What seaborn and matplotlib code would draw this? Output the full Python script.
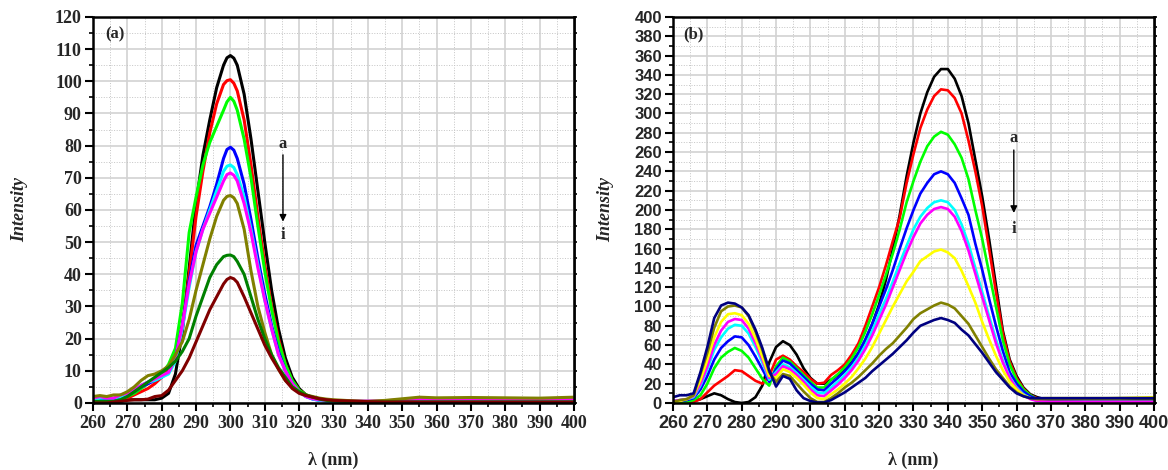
import matplotlib
matplotlib.use("Agg")
import matplotlib.pyplot as plt
from matplotlib.ticker import MultipleLocator
import numpy as np
import pandas as pd
import seaborn as sns

# ---------------- data: panel (a) ----------------
wl_a = [260, 262, 264, 266, 268, 270, 272, 274, 276, 278, 280, 282, 284, 286, 288,
        290, 292, 294, 296, 298, 299, 300, 301, 302, 304, 306, 308, 310, 312, 314, 316, 318,
        320, 322, 324, 326, 328, 330, 335, 340, 345, 350, 355, 360, 370, 380, 390, 400]

a_a = [0.5, 0.3, 0.3, 0.3, 0.5, 1, 1, 1, 1, 1, 1.5, 3, 9, 22, 42,
       62, 77, 88, 98, 105, 107.3, 108, 107.2, 105, 96, 82, 66, 50, 35, 23, 14, 8,
       4.5, 2.5, 1.5, 1, 0.8, 0.6, 0.5, 0.3, 0.3, 0.3, 0.3, 0.3, 0.3, 0.3, 0.3, 0.3]
a_b = [0.3, 0.3, 0.3, 0.5, 1, 1.5, 2.5, 3.5, 4.5, 6, 8, 11, 16, 24, 40,
       58, 72, 84, 93, 99, 100.2, 100.5, 99.4, 97, 88, 74, 58, 43, 30, 20, 12, 7,
       4, 2.5, 1.5, 1, 0.8, 0.6, 0.4, 0.3, 0.3, 0.3, 0.3, 0.3, 0.3, 0.3, 0.3, 0.3]
a_c = [0, 0, 0.3, 0.5, 1, 2, 3, 4.5, 6, 7.5, 9, 12, 17, 31, 53,
       64, 74, 81, 86, 91, 93.6, 95, 93.8, 91, 82, 70, 55, 41, 29, 19, 12, 7,
       4, 2.5, 1.5, 1, 0.7, 0.5, 0.3, 0.3, 0.3, 0.3, 0.3, 0.3, 0.3, 0.3, 0.3, 0.3]
a_d = [0.5, 0.8, 1, 1.3, 2, 2.5, 3.5, 5, 6, 7, 8, 9.5, 14, 24, 38,
       49, 55, 61, 68, 76, 78.8, 79.5, 78.6, 76, 68, 57, 45, 34, 24, 16, 10, 6,
       3.5, 2, 1.2, 0.8, 0.6, 0.5, 0.4, 0.3, 0.3, 0.5, 0.5, 0.5, 0.5, 0.5, 0.5, 0.5]
a_e = [1, 1.5, 1.5, 1.5, 2, 3, 4, 5.5, 6.5, 7, 8, 9, 13, 23, 36,
       47, 54, 60, 66, 72, 73.6, 74, 73.2, 71, 64, 54, 43, 32, 23, 15, 10, 6,
       3.5, 2, 1.2, 0.8, 0.6, 0.5, 0.5, 0.5, 0.5, 0.5, 0.5, 0.5, 0.5, 0.5, 0.5, 0.5]
a_f = [1.5, 2, 1.5, 1.5, 2.5, 3, 4, 5.5, 6.5, 7.5, 8.5, 9.5, 14, 24, 37,
       47, 54, 59, 64, 69, 71, 71.5, 70.8, 69, 62, 53, 42, 32, 23, 15, 10, 6,
       3.5, 2, 1.3, 1, 0.8, 0.7, 0.6, 0.6, 0.7, 1, 1.3, 1.3, 1.3, 1.3, 1.3, 1.3]
a_g = [2, 2.3, 2, 2.5, 2.5, 3.5, 5, 7, 8.5, 9, 10, 11.5, 15, 19, 26,
       35, 43, 51, 58, 63, 64.2, 64.5, 63.8, 62, 54, 41, 30, 22, 15, 10.5, 7, 5,
       3.5, 2.5, 2, 1.5, 1.2, 1, 0.7, 0.5, 0.8, 1.3, 1.8, 1.6, 1.7, 1.6, 1.5, 1.8]
a_h = [0.5, 0.5, 0.5, 0.5, 1, 2, 3.5, 5, 6.5, 8, 9.5, 11, 13, 16, 20,
       27, 33, 39, 43, 45.5, 45.9, 46, 45.5, 44, 40, 33, 26, 20, 15, 11, 8, 5,
       3.5, 2.5, 1.8, 1.2, 0.8, 0.6, 0.4, 0.3, 0.3, 0.3, 0.3, 0.3, 0.3, 0.3, 0.3, 0.3]
a_i = [0, 0, 0, 0.3, 0.5, 0.8, 1, 1, 1.2, 2, 2.3, 4, 7, 10, 14,
       19, 24, 29, 33, 37, 38.4, 39, 38.6, 37.5, 33, 28, 23, 18, 14, 10.5, 7, 4.5,
       3, 2.3, 1.8, 1.3, 1, 0.8, 0.6, 0.4, 0.3, 0.3, 0.3, 0.3, 0.3, 0.3, 0.3, 0.3]

curves_a = [a_a, a_b, a_c, a_d, a_e, a_f, a_g, a_h, a_i]
colors_a = ["#000000", "#ff0000", "#00ff00", "#0000ff", "#00ffff",
            "#ff00ff", "#808000", "#008000", "#800000"]

# ---------------- data: panel (b) ----------------
wl_b = [260, 262, 264, 266, 268, 270, 272, 274, 276, 278, 280, 282, 284, 286, 288,
        290, 292, 294, 296, 298, 300, 302, 304, 306, 308, 310, 312, 314, 316, 318,
        320, 322, 324, 326, 328, 330, 332, 334, 336, 338, 340, 342, 344, 346, 348,
        350, 352, 354, 356, 358, 360, 362, 364, 366, 368, 370, 380, 390, 400]

b_a = [0, 0, 1, 2, 4, 7, 10, 8, 4, 1, 0, 1, 6, 18, 42,
       58, 64, 60, 50, 36, 26, 20, 20, 24, 29, 34, 42, 52, 65, 82,
       102, 128, 160, 195, 235, 270, 300, 322, 338, 346, 346, 336, 318, 290, 252,
       214, 170, 122, 75, 45, 28, 16, 9, 6, 4, 3.5, 3, 3, 3]
b_b = [0, 0, 0, 1, 4, 11, 18, 23, 28, 34, 33, 28, 23, 20, 28,
       45, 49, 45, 38, 32, 25, 20, 21, 29, 34, 40, 50, 62, 80, 100,
       120, 143, 168, 192, 228, 258, 285, 304, 318, 325, 324, 316, 300, 272, 240,
       204, 160, 115, 72, 43, 26, 15, 8, 5, 3, 2.5, 2, 2, 2]
b_c = [0, 0, 1, 3, 8, 20, 36, 47, 53, 57, 54, 47, 36, 25, 18,
       38, 47, 43, 36, 29, 22, 16, 16, 24, 30, 37, 46, 58, 74, 92,
       112, 133, 155, 180, 208, 230, 250, 266, 276, 281, 278, 268, 254, 232, 200,
       170, 135, 100, 65, 40, 24, 14, 8, 4, 3, 2, 2, 2, 2]
b_d = [2, 2, 3, 5, 14, 28, 45, 57, 64, 69, 68, 60, 48, 35, 22,
       35, 44, 41, 34, 27, 20, 14, 13, 20, 26, 33, 41, 52, 66, 82,
       100, 118, 138, 160, 181, 200, 217, 228, 237, 240, 237, 228, 212, 195, 165,
       138, 108, 80, 54, 32, 20, 12, 7, 4, 2, 1.5, 1, 1, 1]
b_e = [2, 3, 4, 6, 18, 35, 55, 68, 77, 81, 80, 72, 58, 42, 24,
       32, 40, 37, 31, 24, 17, 11, 10, 16, 22, 29, 37, 47, 60, 75,
       92, 108, 126, 145, 163, 180, 193, 202, 208, 210, 208, 200, 185, 165, 140,
       115, 90, 66, 44, 27, 16, 9, 5, 2, 1, 0.5, 0.5, 0.5, 0.5]
b_f = [2, 3, 4, 7, 20, 38, 60, 75, 84, 87, 86, 77, 62, 45, 26,
       30, 38, 35, 29, 22, 14, 8, 7, 13, 19, 26, 34, 44, 56, 70,
       86, 102, 120, 138, 156, 172, 186, 195, 201, 203, 201, 193, 178, 158, 134,
       110, 86, 62, 42, 26, 15, 8, 4, 2, 1.5, 1.2, 1.2, 1.2, 1.2]
b_g = [1, 2, 4, 8, 24, 45, 68, 84, 92, 93, 91, 82, 67, 48, 28,
       26, 35, 32, 26, 19, 11, 5, 4, 9, 14, 20, 27, 36, 46, 58,
       72, 86, 100, 113, 126, 136, 147, 152, 157, 159, 156, 150, 137, 121, 104,
       84, 66, 49, 34, 22, 14, 8, 5, 4, 5, 5, 5, 5, 6]
b_h = [1, 3, 4, 8, 30, 52, 78, 95, 100, 101, 99, 90, 74, 55, 32,
       22, 30, 28, 20, 12, 5, 1, 1, 5, 10, 16, 21, 27, 34, 41,
       49, 56, 62, 70, 78, 87, 93, 97, 101, 104, 102, 98, 90, 82, 70,
       58, 46, 35, 26, 17, 11, 7, 5, 4, 4, 4, 4.5, 5, 5]
b_i = [6, 8, 8, 10, 32, 58, 88, 101, 104, 103, 99, 91, 76, 57, 34,
       17, 28, 25, 13, 5, 2, 0.5, 0.5, 3, 7, 11, 16, 21, 26, 33,
       39, 45, 51, 58, 65, 73, 80, 83, 86, 88, 86, 83, 76, 70, 61,
       52, 42, 32, 24, 16, 10, 7, 5, 5, 5, 5, 5, 5, 5]

curves_b = [b_a, b_b, b_c, b_d, b_e, b_f, b_g, b_h, b_i]
colors_b = ["#000000", "#ff0000", "#00ff00", "#0000ff", "#00ffff",
            "#ff00ff", "#ffff00", "#808000", "#000080"]

curve_names = list("abcdefghi")

# ---------------- figure ----------------
sns.set_theme(style="white")
plt.rcParams["font.family"] = ["Liberation Serif", "DejaVu Serif"]

fig = plt.figure(figsize=(11.68, 4.70), dpi=100)
ax_a = fig.add_axes([0.0796, 0.1426, 0.4118, 0.8213])
ax_b = fig.add_axes([0.5762, 0.1426, 0.4118, 0.8213])


def long_df(wl, curves):
    frames = []
    for name, vals in zip(curve_names, curves):
        frames.append(pd.DataFrame({"wl": wl, "I": vals, "curve": name}))
    return pd.concat(frames, ignore_index=True)


df_a = long_df(wl_a, curves_a)
df_b = long_df(wl_b, curves_b)

sns.lineplot(data=df_a, x="wl", y="I", hue="curve", hue_order=curve_names,
             palette=dict(zip(curve_names, colors_a)), ax=ax_a, legend=False,
             linewidth=2.2, sort=False, estimator=None)
sns.lineplot(data=df_b, x="wl", y="I", hue="curve", hue_order=curve_names,
             palette=dict(zip(curve_names, colors_b)), ax=ax_b, legend=False,
             linewidth=1.9, sort=False, estimator=None)


def style_axes(ax, ymax, ymaj, ymin, tick_family, xsize, ysize):
    ax.set_xlim(260, 400)
    ax.set_ylim(0, ymax)
    ax.xaxis.set_major_locator(MultipleLocator(10))
    ax.xaxis.set_minor_locator(MultipleLocator(5))
    ax.yaxis.set_major_locator(MultipleLocator(ymaj))
    ax.yaxis.set_minor_locator(MultipleLocator(ymin))
    ax.set_axisbelow(True)
    ax.grid(which="major", color="#d2d2d2", linewidth=1.2, linestyle="-")
    ax.grid(which="minor", color="#c4c4c4", linewidth=0.7, linestyle=":")
    for sp in ax.spines.values():
        sp.set_visible(True)
        sp.set_color("black")
        sp.set_linewidth(1.8)
    ax.tick_params(which="major", direction="out", length=6, width=1.5,
                   left=True, bottom=True, right=False, top=False, color="black")
    ax.tick_params(which="minor", direction="out", length=3, width=1.2,
                   left=True, bottom=True, right=False, top=False, color="black")
    for lab in ax.get_xticklabels():
        lab.set_fontfamily(tick_family)
        lab.set_fontweight("bold")
        lab.set_fontsize(xsize)
    for lab in ax.get_yticklabels():
        lab.set_fontfamily(tick_family)
        lab.set_fontweight("bold")
        lab.set_fontsize(ysize)
    ax.tick_params(axis="x", pad=3)
    ax.tick_params(axis="y", pad=2)
    # short ticks on the right side
    sec = ax.secondary_yaxis("right")
    sec.yaxis.set_major_locator(MultipleLocator(ymaj))
    sec.yaxis.set_minor_locator(MultipleLocator(ymin))
    sec.tick_params(which="both", direction="out", length=2.5, width=1.2,
                    labelright=False, color="black")
    sec.spines["right"].set_linewidth(1.8)
    ax.set_xlabel(r"λ (nm)", fontfamily="Liberation Serif", fontweight="bold",
                  fontsize=13)
    ax.set_ylabel("Intensity", fontfamily="Liberation Serif", fontweight="bold",
                  fontstyle="italic", fontsize=13)


style_axes(ax_a, 120, 10, 5, "Liberation Serif", 13, 13)
style_axes(ax_b, 400, 20, 10, "Liberation Sans", 13, 12)

ax_a.xaxis.set_label_coords(0.5, -0.148)
ax_a.xaxis.label.set_va("center")
ax_a.yaxis.set_label_coords(-0.152, 0.5)
ax_a.yaxis.label.set_va("center")
ax_b.xaxis.set_label_coords(0.5, -0.148)
ax_b.xaxis.label.set_va("center")
ax_b.yaxis.set_label_coords(-0.141, 0.5)
ax_b.yaxis.label.set_va("center")

txt_kw = dict(fontfamily="Liberation Serif", fontweight="bold", fontsize=12)
ax_a.text(0.025, 0.955, "(a)", transform=ax_a.transAxes, ha="left", va="center", **txt_kw)
ax_b.text(0.021, 0.955, "(b)", transform=ax_b.transAxes, ha="left", va="center", **txt_kw)

# a -> i arrows
ax_a.text(315.3, 80.5, "a", ha="center", va="center", **txt_kw)
ax_a.annotate("", xy=(315.3, 55.5), xytext=(315.3, 78),
              arrowprops=dict(arrowstyle="-|>", color="black", lw=1.0,
                              mutation_scale=10))
ax_a.text(315.3, 52.3, "i", ha="center", va="center", **txt_kw)

ax_b.text(359.2, 274.6, "a", ha="center", va="center", **txt_kw)
ax_b.annotate("", xy=(359.2, 194), xytext=(359.2, 265),
              arrowprops=dict(arrowstyle="-|>", color="black", lw=1.0,
                              mutation_scale=10))
ax_b.text(359.2, 180, "i", ha="center", va="center", **txt_kw)

fig.savefig("out.png", dpi=100)
